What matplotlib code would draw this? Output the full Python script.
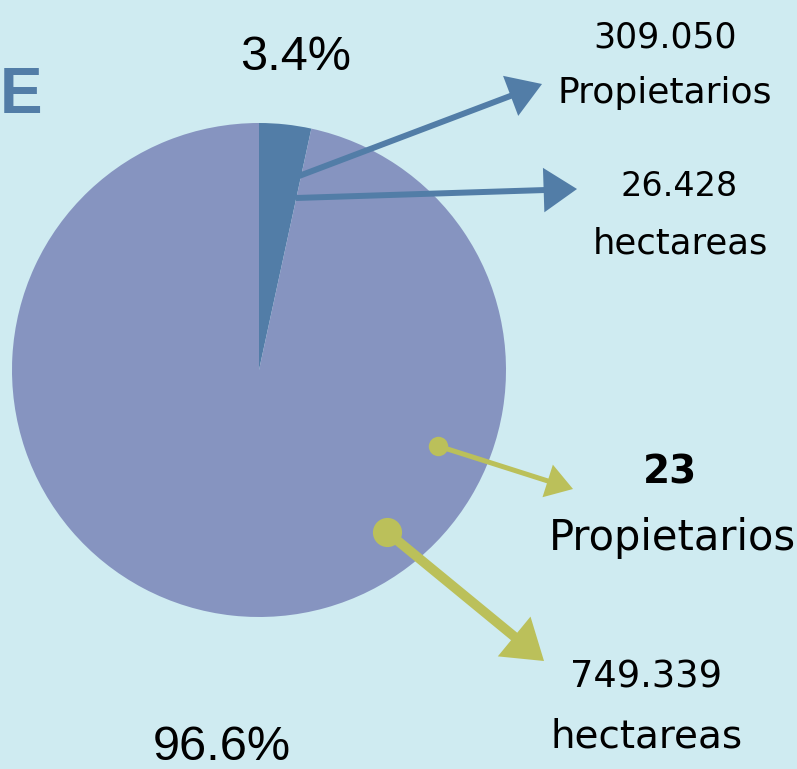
import matplotlib.pyplot as plt

# data
shares = [3.4, 96.6]
share_labels = ["3.4%", "96.6%"]
slice_colors = ["#527da7", "#8694c0"]
top_numbers = ["309.050", "26.428"]
top_units = ["Propietarios", "hectareas"]
bottom_numbers = ["23", "749.339"]
bottom_units = ["Propietarios", "hectareas"]

W, H = 797, 769
bg = "#cfebf1"
blue = "#527da7"
green = "#bbc05a"

fig = plt.figure(figsize=(W / 100, H / 100), dpi=100, facecolor=bg)
ax = fig.add_axes([0, 0, 1, 1])
ax.set_facecolor(bg)

def Y(y):
    # pixel rows from the top -> data coordinates
    return H - y

ax.pie(shares, colors=slice_colors, startangle=90, counterclock=False,
       center=(259, Y(370)), radius=247, frame=True,
       wedgeprops=dict(linewidth=0))
ax.set_xlim(0, W)
ax.set_ylim(0, H)
ax.set_aspect("equal")
ax.axis("off")

# big letter and percentages
ax.text(0, Y(96), "E", fontsize=46, fontweight="bold", color=blue,
        family="Liberation Sans", va="center", ha="left")
ax.text(296, Y(57), share_labels[0], fontsize=35, family="Liberation Sans",
        ha="center", va="center")
ax.text(222, Y(748), share_labels[1], fontsize=35, family="Liberation Sans",
        ha="center", va="center")

font = "DejaVu Sans"
# top labels
ax.text(665, Y(37), top_numbers[0], fontsize=25, family=font, ha="center", va="center")
ax.text(665, Y(93), top_units[0], fontsize=26, family=font, ha="center", va="center")
ax.text(679, Y(187), top_numbers[1], fontsize=24, family=font, ha="center", va="center")
ax.text(680, Y(243), top_units[1], fontsize=25.5, family=font, ha="center", va="center")
# bottom labels
ax.text(670, Y(473), bottom_numbers[0], fontsize=28, family=font, fontweight="bold",
        ha="center", va="center")
ax.text(672, Y(538), bottom_units[0], fontsize=30, family=font, ha="center", va="center")
ax.text(646, Y(677), bottom_numbers[1], fontsize=26.5, family=font, ha="center", va="center")
ax.text(647, Y(737), bottom_units[1], fontsize=28, family=font, ha="center", va="center")

# arrows
def arrow(x0, y0, x1, y1, color, lw, hl, hw):
    ax.annotate("", xy=(x1, Y(y1)), xytext=(x0, Y(y0)),
                arrowprops=dict(arrowstyle=f"-|>,head_length={hl},head_width={hw}",
                                color=color, lw=lw, shrinkA=0, shrinkB=0,
                                joinstyle="miter", capstyle="butt"))

arrow(299, 176, 542, 84, blue, 4.3, 1.8, 1.15)
arrow(296, 198, 577, 189, blue, 4.3, 1.8, 1.2)
arrow(438, 446, 573, 489, green, 3.6, 1.4, 0.9)
arrow(387, 532, 544, 661, green, 7, 1.8, 1.2)

ax.plot([438], [Y(446)], "o", color=green, markersize=14, markeredgewidth=0)
ax.plot([387], [Y(532)], "o", color=green, markersize=21, markeredgewidth=0)

fig.savefig("out.png", dpi=100, facecolor=bg)
